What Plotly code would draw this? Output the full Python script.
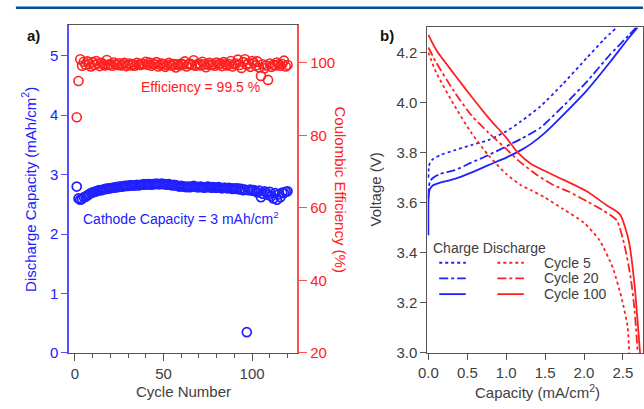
import plotly.graph_objects as go

# ---------------- data: panel a ----------------
cycles = list(range(1, 121))
discharge_capacity = [
    2.80, 2.60, 2.58, 2.59, 2.62, 2.63, 2.65, 2.67, 2.69, 2.70,
    2.71, 2.72, 2.73, 2.74, 2.74, 2.75, 2.76, 2.76, 2.77, 2.77,
    2.78, 2.78, 2.79, 2.79, 2.80, 2.80, 2.80, 2.81, 2.81, 2.81,
    2.82, 2.82, 2.82, 2.82, 2.83, 2.82, 2.83, 2.83, 2.84, 2.83,
    2.84, 2.84, 2.83, 2.84, 2.84, 2.85, 2.84, 2.84, 2.85, 2.84,
    2.84, 2.83, 2.84, 2.83, 2.82, 2.83, 2.82, 2.81, 2.80, 2.81,
    2.80, 2.80, 2.79, 2.80, 2.79, 2.80, 2.81, 2.80, 2.79, 2.79,
    2.80, 2.79, 2.78, 2.79, 2.80, 2.79, 2.78, 2.79, 2.78, 2.78,
    2.79, 2.78, 2.77, 2.78, 2.78, 2.77, 2.78, 2.77, 2.76, 2.77,
    2.76, 2.77, 2.75, 2.76, 2.74, 2.75, 0.35, 2.74, 2.75, 2.73,
    2.74, 2.72, 2.70, 2.73, 2.62, 2.68, 2.72, 2.70, 2.66, 2.71,
    2.64, 2.60, 2.69, 2.58, 2.67, 2.62, 2.70, 2.69, 2.71, 2.72,
]
coulombic_eff = [
    85.0, 95.0, 101.0, 99.2, 100.3, 99.5, 100.4, 99.6, 99.0, 100.2,
    99.4, 100.5, 99.8, 99.1, 100.0, 99.6, 99.3, 100.8, 99.5, 99.7,
    99.2, 100.1, 99.6, 99.4, 99.9, 99.3, 99.7, 100.0, 99.1, 99.5,
    99.8, 99.3, 99.6, 99.2, 100.0, 99.5, 99.4, 99.8, 99.6, 100.3,
    99.5, 100.1, 99.2, 99.7, 99.6, 100.2, 99.0, 99.5, 99.8, 99.6,
    98.9, 99.4, 100.0, 99.5, 99.2, 99.7, 98.7, 99.6, 99.3, 99.8,
    99.5, 100.4, 99.0, 99.6, 99.8, 99.4, 100.7, 99.2, 99.5, 99.9,
    99.3, 100.3, 99.6, 98.8, 99.5, 100.0, 99.4, 99.7, 99.2, 100.1,
    99.5, 99.8, 99.1, 100.2, 99.6, 99.3, 99.7, 100.5, 99.0, 99.6,
    99.8, 100.9, 99.4, 98.6, 100.2, 101.0, 99.5, 99.9, 98.9, 100.5,
    100.0, 99.3, 100.4, 98.7, 96.4, 99.6, 98.5, 99.3, 95.3, 99.8,
    98.9, 99.5, 99.3, 100.1, 99.6, 99.2, 99.7, 100.6, 99.0, 99.4,
]

# ---------------- data: panel b ----------------
ch5_cap = [0, 0.005, 0.02, 0.06, 0.15, 0.34, 0.55, 0.77, 1.0, 1.19, 1.44, 1.73, 2.04, 2.25, 2.42]
ch5_v = [3.70, 3.74, 3.76, 3.775, 3.79, 3.81, 3.83, 3.85, 3.885, 3.925, 3.985, 4.075, 4.18, 4.25, 4.30]
ch20_cap = [0, 0.005, 0.02, 0.06, 0.15, 0.34, 0.55, 0.77, 1.0, 1.19, 1.44, 1.73, 2.04, 2.33, 2.58, 2.67]
ch20_v = [3.62, 3.66, 3.685, 3.70, 3.715, 3.73, 3.76, 3.79, 3.825, 3.855, 3.90, 3.985, 4.085, 4.19, 4.27, 4.30]
ch100_cap = [0, 0, 0.005, 0.02, 0.06, 0.15, 0.34, 0.55, 0.77, 1.0, 1.19, 1.32, 1.5, 1.73, 2.04, 2.33, 2.58, 2.69]
ch100_v = [3.47, 3.60, 3.635, 3.655, 3.67, 3.68, 3.695, 3.72, 3.75, 3.78, 3.81, 3.835, 3.88, 3.95, 4.05, 4.16, 4.26, 4.30]

dis5_cap = [0, 0.1, 0.34, 0.55, 0.77, 1.0, 1.19, 1.32, 1.5, 1.73, 2.0, 2.2, 2.37, 2.49, 2.56, 2.58]
dis5_v = [4.20, 4.12, 3.985, 3.88, 3.79, 3.715, 3.67, 3.65, 3.62, 3.575, 3.52, 3.45, 3.34, 3.21, 3.105, 3.0]
dis20_cap = [0, 0.1, 0.34, 0.55, 0.77, 1.0, 1.15, 1.4, 1.61, 1.8, 2.04, 2.24, 2.42, 2.52, 2.6, 2.65, 2.69]
dis20_v = [4.22, 4.16, 4.04, 3.95, 3.88, 3.815, 3.77, 3.71, 3.67, 3.645, 3.605, 3.57, 3.53, 3.43, 3.30, 3.17, 3.0]
dis100_cap = [0, 0.1, 0.34, 0.55, 0.77, 1.0, 1.15, 1.32, 1.61, 2.04, 2.29, 2.42, 2.47, 2.53, 2.58, 2.65, 2.69, 2.72]
dis100_v = [4.27, 4.21, 4.11, 4.025, 3.94, 3.86, 3.80, 3.755, 3.71, 3.645, 3.59, 3.565, 3.55, 3.50, 3.44, 3.27, 3.12, 3.0]

legend_labels = ["Cycle 5", "Cycle 20", "Cycle 100"]
legend_dashes = ["dot", "dashdot", "solid"]

BLUE = "#2020ff"
RED = "#ff2020"
GRAY = "#404040"
FONT = "Liberation Sans, Arial, sans-serif"

W, H = 644, 409


def px(x):
    return x / W


def py(y):
    return (H - y) / H


fig = go.Figure()

# Panel a
fig.add_trace(go.Scatter(
    x=cycles, y=discharge_capacity, mode="markers", xaxis="x", yaxis="y",
    marker=dict(symbol="circle-open", size=9, color=BLUE, line=dict(width=1.7, color=BLUE)),
    showlegend=False,
))
fig.add_trace(go.Scatter(
    x=cycles, y=coulombic_eff, mode="markers", xaxis="x", yaxis="y2",
    marker=dict(symbol="circle-open", size=9, color=RED, line=dict(width=1.6, color=RED)),
    showlegend=False,
))

# Panel b
for cap, v, dash in [(ch5_cap, ch5_v, "dot"), (ch20_cap, ch20_v, "dashdot"), (ch100_cap, ch100_v, "solid")]:
    fig.add_trace(go.Scatter(x=cap, y=v, mode="lines", xaxis="x3", yaxis="y3",
                             line=dict(color=BLUE, width=1.8, dash=dash, shape="spline", smoothing=0.6),
                             showlegend=False))
for cap, v, dash in [(dis5_cap, dis5_v, "dot"), (dis20_cap, dis20_v, "dashdot"), (dis100_cap, dis100_v, "solid")]:
    fig.add_trace(go.Scatter(x=cap, y=v, mode="lines", xaxis="x3", yaxis="y3",
                             line=dict(color=RED, width=1.8, dash=dash, shape="spline", smoothing=0.6),
                             showlegend=False))

tickfont = dict(family=FONT, size=15, color=GRAY)

fig.update_layout(
    width=W, height=H,
    margin=dict(l=0, r=0, t=0, b=0),
    paper_bgcolor="white", plot_bgcolor="white",
    font=dict(family=FONT, size=15, color=GRAY),
    xaxis=dict(domain=[px(61), px(293)], range=[-3.33, 125.6], anchor="y",
               showline=True, linecolor="#555555", linewidth=1, mirror=True,
               showgrid=False, zeroline=False,
               tickvals=[0, 50, 100], ticks="outside", ticklen=7, tickcolor="#555555",
               minor=dict(tickvals=[10, 20, 30, 40, 60, 70, 80, 90, 110, 120], ticks="outside",
                          ticklen=4, tickcolor="#555555"),
               tickfont=tickfont),
    yaxis=dict(domain=[py(360), py(26)], range=[0, 5.51], anchor="x",
               showline=True, linecolor="#5050ff", linewidth=1.5,
               showgrid=False, zeroline=False,
               tickvals=[0, 1, 2, 3, 4, 5], ticks="outside", ticklen=6, tickcolor="#5050ff",
               tickfont=dict(family=FONT, size=15, color=BLUE)),
    yaxis2=dict(domain=[py(360), py(26)], range=[20, 110.3], overlaying="y", side="right", anchor="x",
                showline=True, linecolor="#ff5050", linewidth=1.5,
                showgrid=False, zeroline=False,
                tickvals=[20, 40, 60, 80, 100], ticks="outside", ticklen=8, tickcolor="#ff5050",
                tickfont=dict(family=FONT, size=15, color=RED)),
    xaxis3=dict(domain=[px(425), 1.0], range=[-0.013, 2.758], anchor="y3",
                showline=True, linecolor="#555555", linewidth=1, mirror=True,
                showgrid=False, zeroline=False,
                tickvals=[0, 0.5, 1.0, 1.5, 2.0, 2.5], ticktext=["0.0", "0.5", "1.0", "1.5", "2.0", "2.5"],
                ticks="outside", ticklen=6, tickcolor="#555555", tickfont=tickfont),
    yaxis3=dict(domain=[py(360), py(28)], range=[3.0, 4.3], anchor="x3",
                showline=True, linecolor="#555555", linewidth=1, mirror=True,
                showgrid=False, zeroline=False,
                tickvals=[3.0, 3.2, 3.4, 3.6, 3.8, 4.0, 4.2],
                ticktext=["3.0", "3.2", "3.4", "3.6", "3.8", "4.0", "4.2"],
                ticks="outside", ticklen=6, tickcolor="#555555", tickfont=tickfont),
)

ann = []


def A(x, y, text, color=GRAY, size=15, angle=0, xanchor="center", bold=False):
    ann.append(dict(x=px(x), y=py(y), xref="paper", yref="paper", text=("<b>%s</b>" % text) if bold else text,
                    showarrow=False, textangle=angle, xanchor=xanchor, yanchor="middle",
                    font=dict(family=FONT, size=size, color=color)))


A(25, 36, "a)", color="#111111", size=15, bold=True)
A(384, 36, "b)", color="#111111", size=15, bold=True)
A(20, 193, "Discharge Capacity (mAh/cm<sup>2</sup>)", color=BLUE, angle=-90)
A(337, 193, "Coulombic Efficiency (%)", color=RED, angle=90)
A(372, 193, "Voltage (V)", color=GRAY, angle=-90)
A(177, 399, "Cycle Number")
A(537, 399, "Capacity (mA/cm<sup>2</sup>)")
A(195, 89, "Efficiency = 99.5 %", color=RED, size=14)
A(175, 222, "Cathode Capacity = 3 mAh/cm<sup>2</sup>", color=BLUE, size=14)

# manual legend
A(429, 253, "Charge Discharge", color=GRAY, size=14, xanchor="left")
shapes = []
row_y = [268, 284, 300]
for lbl, dash, yy in zip(legend_labels, legend_dashes, row_y):
    A(541, yy, lbl, color=GRAY, size=14, xanchor="left")
    shapes.append(dict(type="line", xref="paper", yref="paper", x0=px(437), x1=px(464), y0=py(yy), y1=py(yy),
                       line=dict(color=BLUE, width=1.8, dash=dash)))
    shapes.append(dict(type="line", xref="paper", yref="paper", x0=px(496), x1=px(523), y0=py(yy), y1=py(yy),
                       line=dict(color=RED, width=1.8, dash=dash)))

# top rule
shapes.append(dict(type="line", xref="paper", yref="paper", x0=px(7), x1=1.0, y0=py(8), y1=py(8),
                   line=dict(color="#00509e", width=2.5)))

fig.update_layout(annotations=ann, shapes=shapes)

fig.write_html("out.html")
